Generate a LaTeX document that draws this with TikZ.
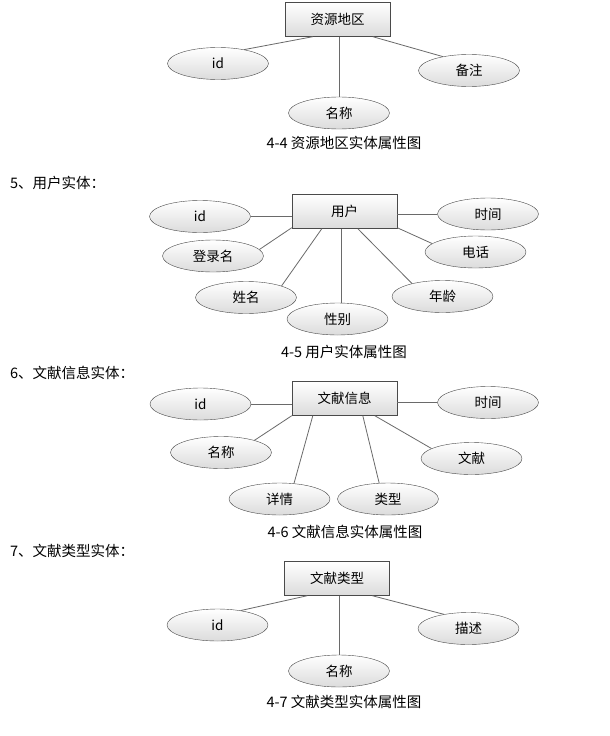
\documentclass[tikz,border=0pt]{standalone}
\usepackage{fontspec}
\setmainfont{Noto Sans CJK SC}
\usetikzlibrary{shapes.geometric}
\definecolor{edgegray}{HTML}{4A4A4A}
\definecolor{linkgray}{HTML}{6A6A6A}

\begin{document}
\begin{tikzpicture}[x=1pt, y=-1pt,
    entity/.style={draw=edgegray, top color=white, bottom color=black!14, minimum width=105pt, minimum height=34pt, inner sep=0pt, font=\fontsize{13.5}{15}\selectfont},
    attr/.style={ellipse, draw=edgegray, top color=white, bottom color=black!14, minimum width=101pt, minimum height=32pt, inner sep=0pt, font=\fontsize{13.5}{15}\selectfont},
    link/.style={draw=linkgray, line width=0.8pt},
    caption/.style={font=\fontsize{14.5}{17}\selectfont},
    heading/.style={anchor=west, inner sep=0pt, font=\fontsize{14.5}{17}\selectfont}]
    \useasboundingbox[fill=white] (0,0) rectangle (610,736);

    % 4-4 资源地区
    \node[entity] (area) at (337.5,19.5) {资源地区};
    \node[attr] (areaid) at (218,63.5) {id};
    \node[attr] (areaname) at (339,113) {名称};
    \node[attr] (areanote) at (469,70.5) {备注};
    \draw[link] ([xshift=28pt]area.south west) -- (areaid.28);
    \draw[link] (areaname.north |- area.south) -- (areaname.north);
    \draw[link] ([xshift=88pt]area.south west) -- (areanote.152);
    \node[caption] (cap4) at (344,143) {4-4 资源地区实体属性图};

    % 4-5 用户
    \node[heading] (head5) at (10,183) {5、用户实体：};
    \node[entity] (user) at (344.5,211.5) {用户};
    \node[attr] (userid) at (200,216.5) {id};
    \node[attr] (usertime) at (488,214) {时间};
    \node[attr] (login) at (213,256) {登录名};
    \node[attr] (phone) at (475.5,252) {电话};
    \node[attr] (xm) at (246,297.5) {姓名};
    \node[attr] (gender) at (337.5,319) {性别};
    \node[attr] (age) at (442.5,296.5) {年龄};
    \draw[link] (userid.east) -- (userid.east -| user.west);
    \draw[link] (usertime.west) -- (usertime.west -| user.east);
    \draw[link] ([yshift=1pt]user.south west) -- (login.8);
    \draw[link] ([xshift=30pt]user.south west) -- (xm.18);
    \draw[link] ([xshift=50pt]user.south west) -- ([xshift=50pt]user.south west |- gender.north);
    \draw[link] ([xshift=66pt]user.south west) -- (age.157);
    \draw[link] ([yshift=1pt]user.south east) -- (phone.169);
    \node[caption] (cap5) at (344,352) {4-5 用户实体属性图};

    % 4-6 文献信息
    \node[heading] (head6) at (10,373) {6、文献信息实体：};
    \node[entity] (info) at (344.5,398.5) {文献信息};
    \node[attr] (infoid) at (200.5,404) {id};
    \node[attr] (infotime) at (488,402.5) {时间};
    \node[attr] (infoname) at (221,452.5) {名称};
    \node[attr] (doc) at (471.5,458.5) {文献};
    \node[attr] (detail) at (279.5,499) {详情};
    \node[attr] (type) at (388,499) {类型};
    \draw[link] (infoid.east) -- (infoid.east -| info.west);
    \draw[link] (infotime.west) -- (infotime.west -| info.east);
    \draw[link] (info.south west) -- (infoname.20);
    \draw[link] ([xshift=21pt]info.south west) -- (detail.47);
    \draw[link] ([xshift=71pt]info.south west) -- (type.119);
    \draw[link] ([xshift=83pt]info.south west) -- (doc.166);
    \node[caption] (cap6) at (345,532) {4-6 文献信息实体属性图};

    % 4-7 文献类型
    \node[heading] (head7) at (10,551) {7、文献类型实体：};
    \node[entity] (kind) at (337,578.5) {文献类型};
    \node[attr] (kindid) at (217.5,625) {id};
    \node[attr] (kindname) at (339,671) {名称};
    \node[attr] (desc) at (468.5,628.5) {描述};
    \draw[link] ([xshift=23pt]kind.south west) -- (kindid.32);
    \draw[link] (kindname.north |- kind.south) -- (kindname.north);
    \draw[link] ([xshift=88pt]kind.south west) -- (desc.150);
    \node[caption] (cap7) at (344,702) {4-7 文献类型实体属性图};
\end{tikzpicture}
\end{document}
